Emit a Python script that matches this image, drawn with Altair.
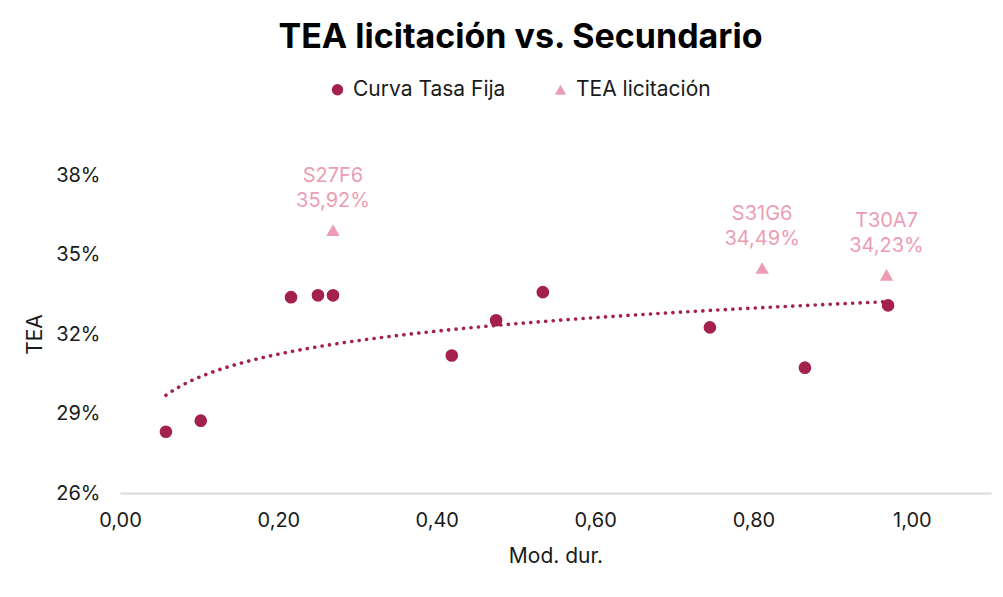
import altair as alt
import pandas as pd

# ---- data ----
series = ["Curva Tasa Fija", "TEA licitación"]
sec_dur = [0.058, 0.102, 0.216, 0.250, 0.269, 0.419, 0.475, 0.534, 0.745, 0.865, 0.970]
sec_tea = [28.31, 28.73, 33.39, 33.46, 33.46, 31.19, 32.52, 33.58, 32.25, 30.73, 33.08]
lic_names = ["S27F6", "S31G6", "T30A7"]
lic_dur = [0.269, 0.811, 0.968]
lic_tea = [35.92, 34.49, 34.23]
x_ticks = [0.0, 0.2, 0.4, 0.6, 0.8, 1.0]
y_ticks = [26, 29, 32, 35, 38]

FONT = "Inter"
DARK = "#A3214A"
PINK = "#EC9DB4"
TXT = "#1a1a1a"

sec = pd.DataFrame({"dur": sec_dur, "tea": sec_tea, "serie": series[0]})
lic = pd.DataFrame({
    "dur": lic_dur,
    "tea": lic_tea,
    "serie": series[1],
    "label": [f"{n}\n{v:.2f}%".replace(".", ",") for n, v in zip(lic_names, lic_tea)],
})

x = alt.X(
    "dur:Q",
    scale=alt.Scale(domain=[0, 1.1], nice=False, zero=False),
    axis=alt.Axis(
        values=x_ticks,
        labelExpr="replace(format(datum.value, '.2f'), '.', ',')",
        title="Mod. dur.",
        grid=False, ticks=False,
        domainColor="#D9D9D9", domainWidth=2,
        labelFontSize=20, titleFontSize=21,
        labelPadding=17, titlePadding=15,
        labelColor=TXT, titleColor=TXT,
        labelFont=FONT, titleFont=FONT, titleFontWeight="normal",
        labelFlush=False,
    ),
)
y = alt.Y(
    "tea:Q",
    scale=alt.Scale(domain=[26, 38], nice=False, zero=False),
    axis=alt.Axis(
        values=y_ticks,
        labelExpr="datum.value + '%'",
        title="TEA",
        grid=False, ticks=False, domain=False,
        labelFontSize=20, titleFontSize=21,
        labelPadding=20, titlePadding=10,
        labelColor=TXT, titleColor=TXT,
        labelFont=FONT, titleFont=FONT, titleFontWeight="normal",
        labelFlush=False,
    ),
)

leg = alt.Legend(
    title=None, orient="none", direction="horizontal",
    legendX=207, legendY=-96, padding=0,
    labelFontSize=21, labelFont=FONT, labelColor=TXT,
    symbolSize=130, columnPadding=44, labelOffset=5,
)
color = alt.Color("serie:N", scale=alt.Scale(domain=series, range=[DARK, PINK]), legend=leg)
shape = alt.Shape("serie:N", scale=alt.Scale(domain=series, range=["circle", "triangle-up"]), legend=leg)

trend = (
    alt.Chart(sec)
    .transform_regression("dur", "tea", method="log")
    .mark_line(color=DARK, strokeDash=[0.1, 7.4], strokeCap="round", strokeWidth=3.6)
    .encode(x=x, y=y)
)
pts = alt.Chart(sec).mark_point(filled=True, size=160, opacity=1).encode(x=x, y=y, color=color, shape=shape)
tri = alt.Chart(lic).mark_point(filled=True, size=180, opacity=1).encode(x=x, y=y, color=color, shape=shape)
labels = alt.Chart(lic).mark_text(
    lineBreak="\n", baseline="bottom", align="center", dy=-44,
    fontSize=20, lineHeight=25, font=FONT, color=PINK,
).encode(x=x, y=y, text="label:N")

chart = (
    alt.layer(trend, pts, tri, labels)
    .properties(
        width=871, height=318,
        autosize=alt.AutoSizeParams(type="none"),
        padding={"left": 112, "top": 167, "right": 4, "bottom": 80},
        title=alt.TitleParams(
            "TEA licitación vs. Secundario",
            fontSize=34, fontWeight="bold", font=FONT, color="#000000",
            anchor="middle", dx=-35, offset=24,
        ),
    )
    .configure(background="white", view=alt.ViewConfig(stroke="transparent", strokeWidth=0))
)

chart.save("out.html", embed_options={"renderer": "svg", "actions": False})
